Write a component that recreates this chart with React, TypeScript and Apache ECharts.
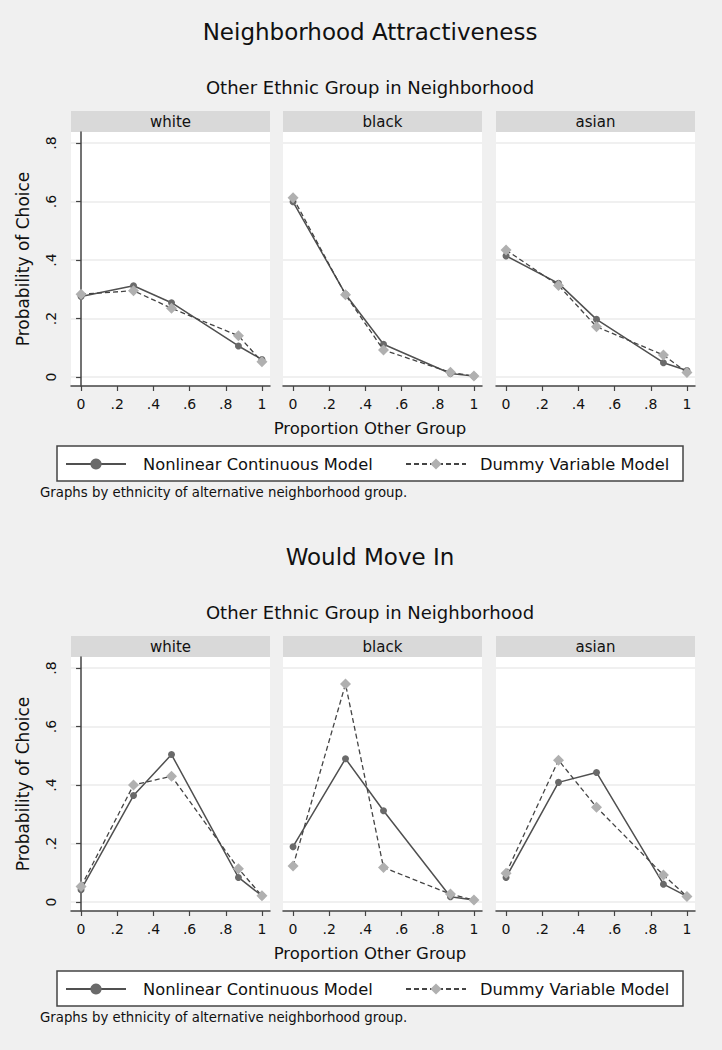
import { useEffect, useRef } from 'react';
import * as echarts from 'echarts';

const groups = ['white', 'black', 'asian'];
const xValues = [0, 0.29, 0.5, 0.87, 1];
const xTicks = [0, 0.2, 0.4, 0.6, 0.8, 1];
const yTicks = [0, 0.2, 0.4, 0.6, 0.8];
const seriesNames = ['Nonlinear Continuous Model', 'Dummy Variable Model'];

// Neighborhood Attractiveness
const attrContWhite = [0.275, 0.312, 0.254, 0.106, 0.06];
const attrDummyWhite = [0.283, 0.295, 0.235, 0.141, 0.052];
const attrContBlack = [0.599, 0.283, 0.112, 0.012, 0.003];
const attrDummyBlack = [0.613, 0.281, 0.092, 0.016, 0.003];
const attrContAsian = [0.414, 0.32, 0.197, 0.049, 0.022];
const attrDummyAsian = [0.434, 0.313, 0.172, 0.075, 0.015];

// Would Move In
const moveContWhite = [0.042, 0.364, 0.504, 0.084, 0.021];
const moveDummyWhite = [0.053, 0.4, 0.43, 0.114, 0.021];
const moveContBlack = [0.189, 0.49, 0.312, 0.018, 0.007];
const moveDummyBlack = [0.123, 0.745, 0.118, 0.027, 0.007];
const moveContAsian = [0.084, 0.409, 0.443, 0.061, 0.019];
const moveDummyAsian = [0.098, 0.485, 0.324, 0.092, 0.019];

const blocks = [
  {
    title: 'Neighborhood Attractiveness',
    cont: [attrContWhite, attrContBlack, attrContAsian],
    dummy: [attrDummyWhite, attrDummyBlack, attrDummyAsian],
  },
  {
    title: 'Would Move In',
    cont: [moveContWhite, moveContBlack, moveContAsian],
    dummy: [moveDummyWhite, moveDummyBlack, moveDummyAsian],
  },
];

const FONT = '"DejaVu Sans", Verdana, sans-serif';
const BLOCK_OFFSET = 525;
const PANEL_LEFT = [71, 283, 496];
const PANEL_W = 199;
const STRIP_TOP = 111;
const STRIP_H = 21;
const PLOT_H = 254;
const CENTER_X = 370;

const fmt = (v: number) => (v === 0 ? '0' : v === 1 ? '1' : '.' + Math.round(v * 10));

function buildOption() {
  const grid: any[] = [];
  const xAxis: any[] = [];
  const yAxis: any[] = [];
  const series: any[] = [];
  const graphic: any[] = [];
  const legend: any[] = [];

  blocks.forEach((blk, b) => {
    const off = b * BLOCK_OFFSET;
    graphic.push({
      type: 'text', x: CENTER_X, y: 32 + off,
      style: { text: blk.title, font: `23px ${FONT}`, fill: '#111', textAlign: 'center', textVerticalAlign: 'middle' },
    });
    graphic.push({
      type: 'text', x: CENTER_X, y: 87 + off,
      style: { text: 'Other Ethnic Group in Neighborhood', font: `18px ${FONT}`, fill: '#111', textAlign: 'center', textVerticalAlign: 'middle' },
    });
    graphic.push({
      type: 'text', x: CENTER_X, y: 428 + off,
      style: { text: 'Proportion Other Group', font: `16.5px ${FONT}`, fill: '#111', textAlign: 'center', textVerticalAlign: 'middle' },
    });
    // legend box
    graphic.push({
      type: 'rect', z: -1,
      shape: { x: 57, y: 446 + off, width: 626, height: 35 },
      style: { fill: '#fff', stroke: '#444', lineWidth: 1.5 },
    });
    graphic.push({
      type: 'text', x: 40, y: 492 + off,
      style: { text: 'Graphs by ethnicity of alternative neighborhood group.', font: `13.3px ${FONT}`, fill: '#111', textVerticalAlign: 'middle' },
    });

    groups.forEach((g, i) => {
      const idx = b * 3 + i;
      const left = PANEL_LEFT[i];
      const stripTop = STRIP_TOP + off;
      graphic.push({
        type: 'rect',
        shape: { x: left, y: stripTop, width: PANEL_W, height: STRIP_H },
        style: { fill: '#d9d9d9' },
      });
      graphic.push({
        type: 'text', x: left + PANEL_W / 2, y: stripTop + STRIP_H / 2,
        style: { text: g, font: `15px ${FONT}`, fill: '#111', textAlign: 'center', textVerticalAlign: 'middle' },
      });
      grid.push({
        left, top: stripTop + STRIP_H, width: PANEL_W, height: PLOT_H,
        show: true, backgroundColor: '#ffffff', borderWidth: 0,
      });
      xAxis.push({
        type: 'value', gridIndex: idx,
        min: -10 / 180, max: 1 + 8 / 180,
        axisLine: { show: true, onZero: false, lineStyle: { color: '#444', width: 1.5 } },
        axisTick: { show: true, customValues: xTicks, length: 5, lineStyle: { color: '#444', width: 1.2 } },
        axisLabel: { show: true, customValues: xTicks, formatter: fmt, fontSize: 14, fontFamily: FONT, color: '#111', margin: 11 },
        splitLine: { show: false },
      });
      yAxis.push({
        type: 'value', gridIndex: idx,
        min: -9 / 292.5, max: 0.8 + 11 / 292.5,
        axisLine: { show: i === 0, lineStyle: { color: '#444', width: 1.5 } },
        axisTick: { show: i === 0, customValues: yTicks, length: 5, lineStyle: { color: '#444', width: 1.2 } },
        axisLabel: { show: i === 0, customValues: yTicks, formatter: fmt, fontSize: 14, fontFamily: FONT, color: '#111', rotate: 90, margin: 13 },
        splitLine: { show: true, lineStyle: { color: '#ebebeb', width: 1.5 } },
        name: i === 0 ? 'Probability of Choice' : '',
        nameLocation: 'middle',
        nameGap: 40,
        nameTextStyle: { fontSize: 17, fontFamily: FONT, color: '#111' },
      });
      series.push({
        name: seriesNames[0], type: 'line', xAxisIndex: idx, yAxisIndex: idx,
        data: xValues.map((x, k) => [x, blk.cont[i][k]]),
        symbol: 'circle', symbolSize: 7,
        itemStyle: { color: '#6a6a6a' },
        lineStyle: { color: '#505050', width: 1.5 },
        z: 2,
      });
      series.push({
        name: seriesNames[1], type: 'line', xAxisIndex: idx, yAxisIndex: idx,
        data: xValues.map((x, k) => [x, blk.dummy[i][k]]),
        symbol: 'diamond', symbolSize: 11,
        itemStyle: { color: '#b0b0b0' },
        lineStyle: { color: '#444', width: 1.3, type: [5, 3] },
        z: 3,
      });
    });

    [65, 405].forEach((lx, k) => {
      legend.push({
        data: [seriesNames[k]],
        left: lx, top: 456 + off,
        padding: 0,
        itemWidth: 60, itemHeight: 14,
        selectedMode: false,
        textStyle: { fontSize: 16.3, fontFamily: FONT, color: '#111', padding: [0, 0, 0, k === 0 ? 12 : 9] },
      });
    });
  });

  return {
    animation: false,
    backgroundColor: '#f0f0f0',
    grid, xAxis, yAxis, series, graphic, legend,
  };
}

export default function App() {
  const ref = useRef<HTMLDivElement>(null);
  useEffect(() => {
    document.body.style.margin = '0';
    const chart = echarts.init(ref.current!, undefined, { renderer: 'svg' });
    chart.setOption(buildOption() as any);
    return () => chart.dispose();
  }, []);
  return <div ref={ref} style={{ width: 722, height: 1050 }} />;
}
